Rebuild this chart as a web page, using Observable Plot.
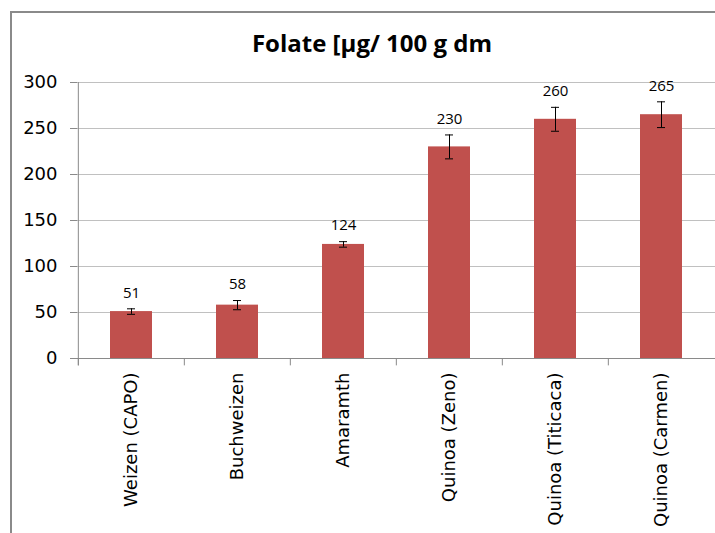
<!DOCTYPE html>
<html><head><meta charset="utf-8">
<script src="https://cdn.jsdelivr.net/npm/d3@7"></script>
<script src="https://cdn.jsdelivr.net/npm/@observablehq/plot@0.6"></script>
<style>
body{margin:0;background:#fff;}
#wrap{position:relative;width:715px;height:533px;overflow:hidden;font-family:"DejaVu Sans",sans-serif;}
#frame{position:absolute;left:10px;top:11px;width:800px;height:600px;border-left:2px solid #8a8a8a;border-top:2px solid #8a8a8a;}
#title{position:absolute;left:0;width:744px;top:27px;text-align:center;font:bold 24px "Open Sans", sans-serif;color:#000;line-height:32px;}
#chart{position:absolute;left:0;top:70px;}
</style></head><body>
<div id="wrap"><div id="frame"></div><div id="title">Folate [µg/ 100 g dm</div><div id="chart"></div></div>
<script>
const categories = ["Weizen (CAPO)", "Buchweizen", "Amaramth", "Quinoa (Zeno)", "Quinoa (Titicaca)", "Quinoa (Carmen)"];
const values = [51, 58, 124, 230, 260, 265];
const errors = [3, 5, 3, 13, 13, 14];
const yTicks = [0, 50, 100, 150, 200, 250, 300];

const data = categories.map((c, i) => ({cat: c, v: values[i], e: errors[i]}));
const W = 715, ML = 77, MR = 0;
const half = (W - ML - MR) / categories.length / 2;
const axisColor = "#8a8a8a";

const chart = Plot.plot({
  width: W, height: 463, marginTop: 12, marginBottom: 175, marginLeft: ML, marginRight: MR,
  x: {domain: categories, paddingInner: 0.6, paddingOuter: 0.3},
  y: {domain: [0, 300]},
  style: {fontFamily: "'DejaVu Sans', sans-serif", fontSize: "18px", color: "#000", background: "transparent"},
  marks: [
    Plot.gridY(yTicks, {stroke: "#c0c0c0", strokeOpacity: 1}),
    Plot.barY(data, {x: "cat", y: "v", fill: "#C0504D"}),
    Plot.ruleX(data, {x: "cat", y1: d => d.v - d.e, y2: d => d.v + d.e, stroke: "#000"}),
    Plot.tickY(data, {x: "cat", y: d => d.v - d.e, insetLeft: 17, insetRight: 17, stroke: "#000"}),
    Plot.tickY(data, {x: "cat", y: d => d.v + d.e, insetLeft: 17, insetRight: 17, stroke: "#000"}),
    Plot.text(data, {x: "cat", y: d => d.v + d.e, text: d => String(d.v), dy: -16, fontSize: 15, fontFamily: "'Open Sans', sans-serif", fill: "#000"}),
    Plot.ruleY([0], {stroke: axisColor}),
    Plot.ruleX(categories, {x: d => d, y1: -8, y2: 0, dx: -half, stroke: axisColor}),
    Plot.ruleX([categories[0]], {x: d => d, y1: -8, y2: 300, dx: -half, stroke: axisColor}),
    Plot.axisY(yTicks, {tickSize: 7, tickPadding: 13, stroke: axisColor, fill: "#000", fontSize: 18, fontFamily: "'DejaVu Sans', sans-serif", label: null}),
    Plot.axisX({tickSize: 0, tickPadding: 14, tickRotate: -90, label: null, fontSize: 18, fontFamily: "'DejaVu Sans', sans-serif", fill: "#000"})
  ]
});
document.getElementById("chart").appendChild(chart);
</script>
</body></html>
